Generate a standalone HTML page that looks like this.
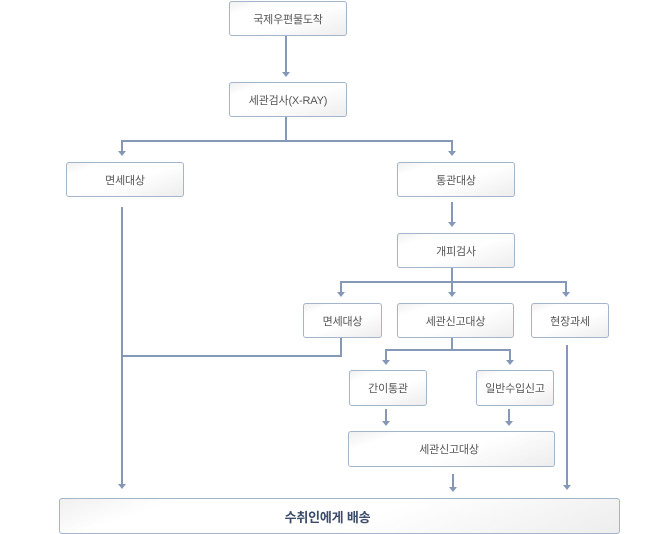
<!DOCTYPE html>
<html><head><meta charset="utf-8"><style>
html,body{margin:0;padding:0;background:#fff;}
body{width:665px;height:534px;position:relative;overflow:hidden;font-family:"Liberation Sans","Noto Sans CJK KR",sans-serif;}
.b{position:absolute;box-sizing:border-box;border:1px solid #a3b4cb;border-radius:3px;
background:linear-gradient(160deg,#f0f0f0 0%,#fff 18%,#fff 55%,#ededed 100%);
display:flex;align-items:center;justify-content:center;font-size:11px;color:#555;letter-spacing:-0.2px;}
.l{position:absolute;background:#8598b6;}
.t{position:absolute;width:0;height:0;border-left:4.5px solid transparent;border-right:4.5px solid transparent;border-top:5px solid #8598b6;}
</style></head><body>

<!-- boxes -->
<div class="b" style="left:229px;top:1px;width:118px;height:35px;">국제우편물도착</div>
<div class="b" style="left:229px;top:82px;width:118px;height:35px;">세관검사(X-RAY)</div>
<div class="b" style="left:66px;top:162px;width:118px;height:35px;">면세대상</div>
<div class="b" style="left:397px;top:162px;width:118px;height:35px;">통관대상</div>
<div class="b" style="left:397px;top:233px;width:118px;height:35px;">개피검사</div>
<div class="b" style="left:303px;top:303px;width:79px;height:35px;">면세대상</div>
<div class="b" style="left:397px;top:303px;width:117px;height:35px;">세관신고대상</div>
<div class="b" style="left:531px;top:303px;width:78px;height:35px;">현장과세</div>
<div class="b" style="left:349px;top:370px;width:78px;height:36px;">간이통관</div>
<div class="b" style="left:476px;top:370px;width:78px;height:36px;">일반수입신고</div>
<div class="b" style="left:348px;top:431px;width:207px;height:36px;padding-right:5px;">세관신고대상</div>
<div class="b" style="left:59px;top:498px;width:561px;height:36px;font-size:13px;font-weight:bold;color:#3b4c6b;padding-right:24px;">수취인에게 배송</div>

<!-- arrow 1 -->
<div class="l" style="left:285px;top:36px;width:2px;height:37px;"></div>
<div class="t" style="left:281.5px;top:72px;"></div>

<!-- from box2 -->
<div class="l" style="left:285px;top:117px;width:2px;height:24px;"></div>
<div class="l" style="left:121px;top:140px;width:332px;height:2px;"></div>
<div class="l" style="left:121px;top:140px;width:2px;height:12px;"></div>
<div class="t" style="left:117.5px;top:151px;"></div>
<div class="l" style="left:451px;top:140px;width:2px;height:12px;"></div>
<div class="t" style="left:447.5px;top:151px;"></div>

<!-- 통관대상 -> 개피검사 -->
<div class="l" style="left:451px;top:202px;width:2px;height:21px;"></div>
<div class="t" style="left:447.5px;top:222px;"></div>

<!-- 개피검사 -> three -->
<div class="l" style="left:451px;top:268px;width:2px;height:15px;"></div>
<div class="l" style="left:340px;top:281px;width:227px;height:2px;"></div>
<div class="l" style="left:340px;top:281px;width:2px;height:12px;"></div>
<div class="t" style="left:336.5px;top:292px;"></div>
<div class="l" style="left:451px;top:281px;width:2px;height:12px;"></div>
<div class="t" style="left:447.5px;top:292px;"></div>
<div class="l" style="left:565px;top:281px;width:2px;height:12px;"></div>
<div class="t" style="left:561.5px;top:292px;"></div>

<!-- left long line -->
<div class="l" style="left:121px;top:207px;width:2px;height:278px;"></div>
<div class="t" style="left:117.5px;top:484px;"></div>
<!-- small 면세대상 -> left line -->
<div class="l" style="left:340px;top:338px;width:2px;height:19px;"></div>
<div class="l" style="left:121px;top:355px;width:221px;height:2px;"></div>

<!-- 세관신고대상 -> two -->
<div class="l" style="left:451px;top:338px;width:2px;height:13px;"></div>
<div class="l" style="left:385px;top:349px;width:126px;height:2px;"></div>
<div class="l" style="left:385px;top:349px;width:2px;height:12px;"></div>
<div class="t" style="left:381.5px;top:360px;"></div>
<div class="l" style="left:509px;top:349px;width:2px;height:12px;"></div>
<div class="t" style="left:505.5px;top:360px;"></div>

<!-- two -> 세관신고대상 big -->
<div class="l" style="left:385px;top:409px;width:2px;height:13px;"></div>
<div class="t" style="left:381.5px;top:421px;"></div>
<div class="l" style="left:508px;top:409px;width:2px;height:13px;"></div>
<div class="t" style="left:504.5px;top:421px;"></div>

<!-- big -> bottom -->
<div class="l" style="left:452px;top:474px;width:2px;height:14px;"></div>
<div class="t" style="left:448.5px;top:487px;"></div>

<!-- 현장과세 line -->
<div class="l" style="left:566px;top:345px;width:2px;height:141px;"></div>
<div class="t" style="left:562.5px;top:485px;"></div>

</body></html>
